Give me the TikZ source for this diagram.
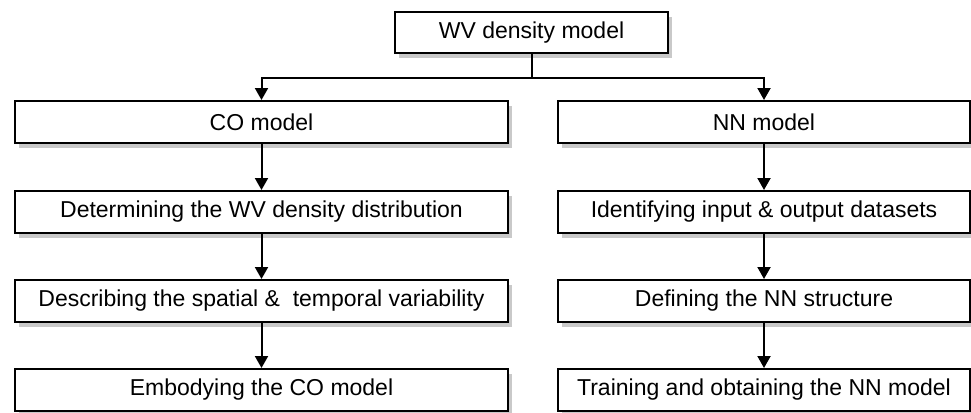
\documentclass[tikz,border=0pt]{standalone}
\usepackage{fontspec}
\setmainfont{Liberation Sans}
\usetikzlibrary{arrows.meta,shadows}
\begin{document}
\begin{tikzpicture}[x=1pt,y=-1pt,
  box/.style={draw=black,line width=2pt,fill=white,inner sep=0pt,anchor=north west,
    font=\fontsize{23}{28}\selectfont,
    drop shadow={shadow xshift=4pt,shadow yshift=-5pt,opacity=0.3,fill=black!70}},
  lbox/.style={box,minimum width=493pt,minimum height=42pt},
  rbox/.style={box,minimum width=412pt,minimum height=42pt},
  conn/.style={line width=2pt,-{Triangle[length=12pt,width=13pt]}},
  plain/.style={line width=2pt}]
\useasboundingbox (0,0) rectangle (971,412);
\node[box,minimum width=273pt,minimum height=41pt] (top) at (394,11) {WV density model};
\node[lbox] (l1) at (14,100) {CO model};
\node[lbox] (l2) at (14,190) {Determining the WV density distribution};
\node[lbox] (l3) at (14,279) {Describing the spatial \&\ \ temporal variability};
\node[lbox] (l4) at (14,368) {Embodying the CO model};
\node[rbox] (r1) at (557,100) {NN model};
\node[rbox] (r2) at (557,190) {Identifying input \& output datasets};
\node[rbox] (r3) at (557,279) {Defining the NN structure};
\node[rbox] (r4) at (557,368) {Training and obtaining the NN model};
\coordinate (j) at (top.south |- 0,78);
\draw[plain] (top.south) -- (j);
\draw[conn] (j) -| (l1.north);
\draw[conn] (j) -| (r1.north);
\draw[conn] (l1) -- (l2);
\draw[conn] (l2) -- (l3);
\draw[conn] (l3) -- (l4);
\draw[conn] (r1) -- (r2);
\draw[conn] (r2) -- (r3);
\draw[conn] (r3) -- (r4);
\end{tikzpicture}
\end{document}
